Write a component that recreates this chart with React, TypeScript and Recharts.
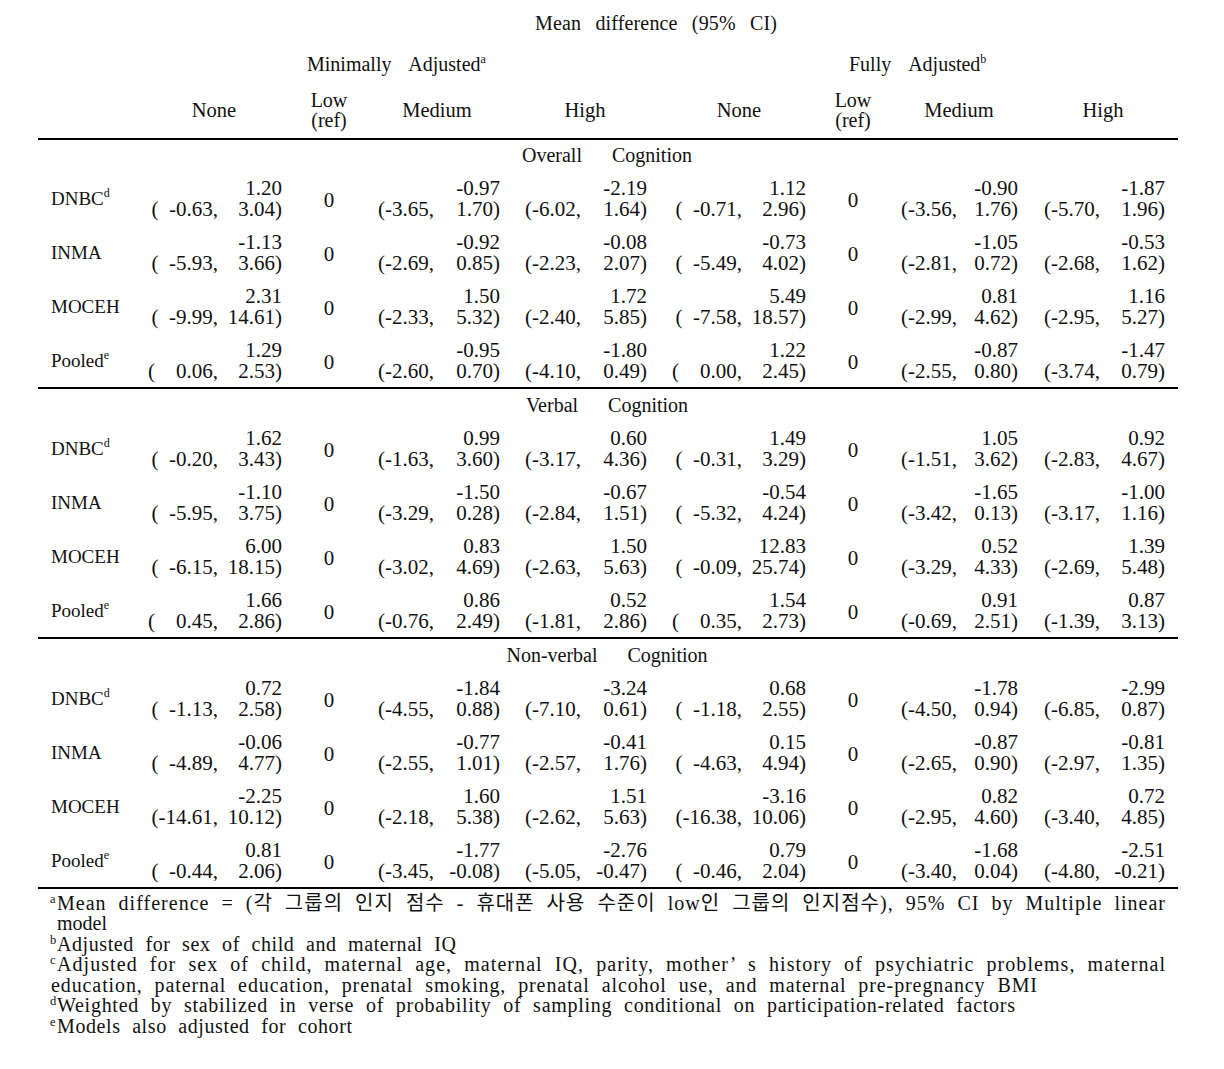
import React from 'react';
import { ScatterChart, Scatter, XAxis, YAxis, ReferenceLine } from 'recharts';

// ---------------- DATA ----------------
const cohorts = ['DNBC', 'INMA', 'MOCEH', 'Pooled'];
const cohortSup = ['d', '', '', 'e'];
const sectionTitles = ['Overall  Cognition', 'Verbal  Cognition', 'Non-verbal  Cognition'];
const modelTitles = ['Minimally  Adjusted', 'Fully  Adjusted'];
const modelSup = ['a', 'b'];
const levelLabels = ['None', 'Medium', 'High'];
const refLabel = ['Low', '(ref)'];
const refValue = 0;
const topTitle = 'Mean  difference  (95%  CI)';

// each entry: [estimate, lower, upper] for DNBC, INMA, MOCEH, Pooled
const overallMinNone = [[1.20, -0.63, 3.04], [-1.13, -5.93, 3.66], [2.31, -9.99, 14.61], [1.29, 0.06, 2.53]];
const overallMinMedium = [[-0.97, -3.65, 1.70], [-0.92, -2.69, 0.85], [1.50, -2.33, 5.32], [-0.95, -2.60, 0.70]];
const overallMinHigh = [[-2.19, -6.02, 1.64], [-0.08, -2.23, 2.07], [1.72, -2.40, 5.85], [-1.80, -4.10, 0.49]];
const overallFullNone = [[1.12, -0.71, 2.96], [-0.73, -5.49, 4.02], [5.49, -7.58, 18.57], [1.22, 0.00, 2.45]];
const overallFullMedium = [[-0.90, -3.56, 1.76], [-1.05, -2.81, 0.72], [0.81, -2.99, 4.62], [-0.87, -2.55, 0.80]];
const overallFullHigh = [[-1.87, -5.70, 1.96], [-0.53, -2.68, 1.62], [1.16, -2.95, 5.27], [-1.47, -3.74, 0.79]];

const verbalMinNone = [[1.62, -0.20, 3.43], [-1.10, -5.95, 3.75], [6.00, -6.15, 18.15], [1.66, 0.45, 2.86]];
const verbalMinMedium = [[0.99, -1.63, 3.60], [-1.50, -3.29, 0.28], [0.83, -3.02, 4.69], [0.86, -0.76, 2.49]];
const verbalMinHigh = [[0.60, -3.17, 4.36], [-0.67, -2.84, 1.51], [1.50, -2.63, 5.63], [0.52, -1.81, 2.86]];
const verbalFullNone = [[1.49, -0.31, 3.29], [-0.54, -5.32, 4.24], [12.83, -0.09, 25.74], [1.54, 0.35, 2.73]];
const verbalFullMedium = [[1.05, -1.51, 3.62], [-1.65, -3.42, 0.13], [0.52, -3.29, 4.33], [0.91, -0.69, 2.51]];
const verbalFullHigh = [[0.92, -2.83, 4.67], [-1.00, -3.17, 1.16], [1.39, -2.69, 5.48], [0.87, -1.39, 3.13]];

const nonverbalMinNone = [[0.72, -1.13, 2.58], [-0.06, -4.89, 4.77], [-2.25, -14.61, 10.12], [0.81, -0.44, 2.06]];
const nonverbalMinMedium = [[-1.84, -4.55, 0.88], [-0.77, -2.55, 1.01], [1.60, -2.18, 5.38], [-1.77, -3.45, -0.08]];
const nonverbalMinHigh = [[-3.24, -7.10, 0.61], [-0.41, -2.57, 1.76], [1.51, -2.62, 5.63], [-2.76, -5.05, -0.47]];
const nonverbalFullNone = [[0.68, -1.18, 2.55], [0.15, -4.63, 4.94], [-3.16, -16.38, 10.06], [0.79, -0.46, 2.04]];
const nonverbalFullMedium = [[-1.78, -4.50, 0.94], [-0.87, -2.65, 0.90], [0.82, -2.95, 4.60], [-1.68, -3.40, 0.04]];
const nonverbalFullHigh = [[-2.99, -6.85, 0.87], [-0.81, -2.97, 1.35], [0.72, -3.40, 4.85], [-2.51, -4.80, -0.21]];

const footnoteSups = ['a', '', 'b', 'c', '', 'd', 'e'];
const footnoteTexts = [
  'Mean difference = (각 그룹의 인지 점수 - 휴대폰 사용 수준이 low인 그룹의 인지점수), 95% CI by Multiple linear',
  'model',
  'Adjusted for sex of child and maternal IQ',
  'Adjusted for sex of child, maternal age, maternal IQ, parity, mother’ s history of psychiatric problems, maternal',
  'education, paternal education, prenatal smoking, prenatal alcohol use, and maternal pre-pregnancy BMI',
  'Weighted by stabilized in verse of probability of sampling conditional on participation-related factors',
  'Models also adjusted for cohort',
];

const sectionData = [
  [[overallMinNone, overallMinMedium, overallMinHigh], [overallFullNone, overallFullMedium, overallFullHigh]],
  [[verbalMinNone, verbalMinMedium, verbalMinHigh], [verbalFullNone, verbalFullMedium, verbalFullHigh]],
  [[nonverbalMinNone, nonverbalMinMedium, nonverbalMinHigh], [nonverbalFullNone, nonverbalFullMedium, nonverbalFullHigh]],
];

// ---------------- LAYOUT ----------------
const W = 1224;
const H = 1069;
const FONT = "'Liberation Serif', 'Times New Roman', 'Noto Sans CJK KR', serif";
const INK = '#111';
const NUM_SIZE = 21;
const PAD_CHAR = '\u2007';
const LINE_X = [38, 1178];
const RULES = [4, 139, 388, 638, 888];
const SECTION_TOP = [138, 388, 638];
const TITLE_OFFSET = 17;
const ROW_OFFSET = 61;
const ROW_STEP = 54;
const CELL_C = [[218, 434, 581], [742, 957, 1100]];
const CELL_R = [[282, 500, 647], [806, 1018, 1165]];
const HEAD_X = [[214, 437, 585], [739, 959, 1103]];
const ZERO_X = [329, 853];
const MODEL_X = [307, 849];
const FOOT_Y = [910, 930, 951, 971, 992, 1012, 1033];
const FOOT_X = [57, 57, 57, 57, 51, 57, 57];
const FOOT_LEN = [1108, 0, 399, 1108, 986, 958, 295];

type Item = {
  kind: 'text' | 'cell' | 'stack';
  x: number; y: number; text: string; anchor: 'start' | 'middle' | 'end';
  size: number; sup?: string; ws?: number; len?: number;
  lo?: string; hi?: string; off?: number; second?: string;
};

const fmt = (v: number) => v.toFixed(2);

function buildItems(): Item[] {
  const items: Item[] = [];
  items.push({ kind: 'text', x: 656, y: 30, text: topTitle, anchor: 'middle', size: 20, ws: 2, len: 242 });
  modelTitles.forEach((t, m) => {
    items.push({ kind: 'text', x: MODEL_X[m], y: 71, text: t, anchor: 'start', size: 20, ws: 4, sup: modelSup[m] });
    levelLabels.forEach((l, k) => {
      items.push({ kind: 'text', x: HEAD_X[m][k], y: 117, text: l, anchor: 'middle', size: 20.5 });
    });
    items.push({ kind: 'stack', x: ZERO_X[m], y: 107, text: refLabel[0], second: refLabel[1], anchor: 'middle', size: 20 });
  });

  sectionTitles.forEach((title, s) => {
    const top = SECTION_TOP[s];
    items.push({ kind: 'text', x: 607, y: top + TITLE_OFFSET + 7, text: title, anchor: 'middle', size: 20, ws: 10 });
    cohorts.forEach((c, i) => {
      const rc = top + ROW_OFFSET + i * ROW_STEP;
      items.push({ kind: 'text', x: 51, y: rc + 6, text: c, anchor: 'start', size: 19, sup: cohortSup[i] });
      [0, 1].forEach((m) => {
        items.push({ kind: 'text', x: ZERO_X[m], y: rc + 8, text: String(refValue), anchor: 'middle', size: NUM_SIZE });
        [0, 1, 2].forEach((k) => {
          const col = sectionData.map((sd) => sd[m][k]).flat();
          const padW = Math.max(...col.map((r) => fmt(r[1]).length));
          const [est, lo, hi] = sectionData[s][m][k][i];
          items.push({
            kind: 'cell', x: CELL_R[m][k], y: rc, text: fmt(est), anchor: 'end', size: NUM_SIZE,
            lo: '(' + fmt(lo).padStart(padW, PAD_CHAR) + ',', hi: fmt(hi) + ')', off: CELL_C[m][k] - CELL_R[m][k],
          });
        });
      });
    });
  });

  footnoteTexts.forEach((t, j) => {
    if (footnoteSups[j]) {
      items.push({ kind: 'text', x: 50, y: FOOT_Y[j] - 7, text: footnoteSups[j], anchor: 'start', size: 12.5 });
    }
    items.push({ kind: 'text', x: FOOT_X[j], y: FOOT_Y[j], text: t, anchor: 'start', size: 20, ws: 6, len: FOOT_LEN[j] || undefined });
  });
  return items;
}

const items = buildItems();

const renderText = (props: any) => {
  const { cx, cy, payload } = props;
  const p = payload as Item;
  const common = {
    fontSize: p.size,
    fontFamily: FONT,
    fill: INK,
    xmlSpace: 'preserve',
    style: { whiteSpace: 'pre' as const },
  };
  if (p.kind === 'cell') {
    return (
      <text {...common} textAnchor="end">
        <tspan x={cx} y={cy - 4}>{p.text}</tspan>
        <tspan x={cx + (p.off || 0)} y={cy + 17}>{p.lo}</tspan>
        <tspan x={cx} y={cy + 17}>{p.hi}</tspan>
      </text>
    );
  }
  if (p.kind === 'stack') {
    return (
      <text {...common} textAnchor="middle">
        <tspan x={cx} y={cy}>{p.text}</tspan>
        <tspan x={cx} y={cy + 20}>{p.second}</tspan>
      </text>
    );
  }
  return (
    <text
      {...common}
      x={cx}
      y={cy}
      textAnchor={p.anchor}
      wordSpacing={p.ws}
      textLength={p.len}
      lengthAdjust={p.len ? 'spacing' : undefined}
    >
      {p.text}
      {p.sup ? (
        <tspan fontSize={12} dy={-8}>{p.sup}</tspan>
      ) : null}
    </text>
  );
};

export default function App() {
  return (
    <div style={{ margin: -8, width: W, height: H, background: '#fff' }}>
      <ScatterChart width={W} height={H} margin={{ top: 0, right: 0, bottom: 0, left: 0 }}>
        <XAxis type="number" dataKey="x" domain={[0, W]} hide allowDataOverflow />
        <YAxis type="number" dataKey="y" domain={[0, H]} reversed hide allowDataOverflow />
        {RULES.map((y) => (
          <ReferenceLine
            key={y}
            segment={[{ x: LINE_X[0], y }, { x: LINE_X[1], y }]}
            stroke="#000"
            strokeWidth={2}
            ifOverflow="visible"
          />
        ))}
        <Scatter data={items} shape={renderText} isAnimationActive={false} />
      </ScatterChart>
    </div>
  );
}
